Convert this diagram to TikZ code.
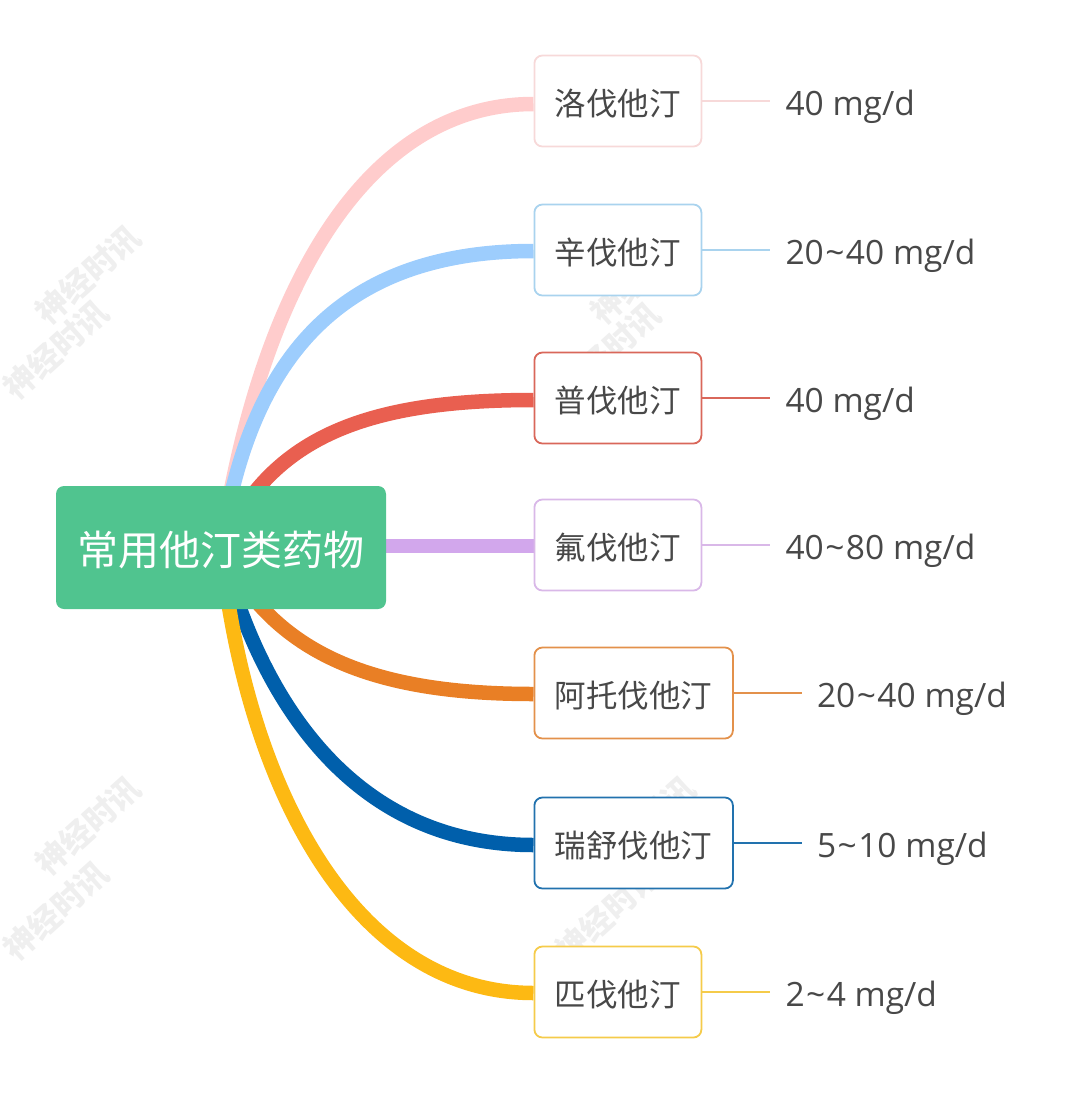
\documentclass[tikz,border=0pt]{standalone}
\usepackage{fontspec}
\setmainfont{Open Sans}
\newfontfamily\cjk{Noto Sans CJK SC}
\usetikzlibrary{positioning, backgrounds}

\newcommand{\tildesep}{\kern1.5pt\textasciitilde\kern1.5pt}

\definecolor{rootgreen}{HTML}{50C48F}
\definecolor{textgray}{HTML}{484848}
\definecolor{markgray}{HTML}{EFEFEF}
\definecolor{lopink}{HTML}{FFCCCC}
\definecolor{lopinkline}{HTML}{F7D9D9}
\definecolor{siblue}{HTML}{9DCDFD}
\definecolor{siblueline}{HTML}{A9D3EE}
\definecolor{prred}{HTML}{E95F50}
\definecolor{prredline}{HTML}{D9675A}
\definecolor{flpurple}{HTML}{D2A7EC}
\definecolor{flpurpleline}{HTML}{D9B8E8}
\definecolor{atorange}{HTML}{E97F25}
\definecolor{atorangeline}{HTML}{E3914B}
\definecolor{rsblue}{HTML}{005FAB}
\definecolor{rsblueline}{HTML}{2272AE}
\definecolor{piyellow}{HTML}{FDB913}
\definecolor{piyellowline}{HTML}{F5CB4A}

\tikzset{
  rootnode/.style={fill=rootgreen, text=white, rounded corners=8pt, minimum width=330pt, minimum height=123pt, inner sep=0pt, text height=38pt, text depth=2pt, font=\cjk\fontsize{41}{48}\selectfont},
  drugnode/.style={draw, fill=white, rounded corners=8pt, line width=1.8pt, minimum height=91pt, inner xsep=20.5pt, inner ysep=0pt, anchor=west, text=textgray, text height=30pt, text depth=2pt, font=\cjk\fontsize{31.5}{38}\selectfont},
  dosetext/.style={inner xsep=15pt, inner ysep=0pt, text=textgray, text height=31pt, text depth=2pt, font=\fontsize{33.5}{40}\selectfont},
  mainline/.style={line width=14.5pt},
  doseline/.style={line width=1.5pt},
  watermark/.style={rotate=42, text=markgray, font=\cjk\bfseries\fontsize{32}{38}\selectfont, inner sep=0pt}
}

\begin{document}
\begin{tikzpicture}[x=1pt, y=-1pt]
  \useasboundingbox (0,0) rectangle (1080,1093);

  \node[watermark] (mark1) at (88,275) {神经时讯};
  \node[watermark] (mark2) at (56,350) {神经时讯};
  \node[watermark] (mark3) at (643,275) {神经时讯};
  \node[watermark] (mark4) at (608,352) {神经时讯};
  \node[watermark] (mark5) at (88,826) {神经时讯};
  \node[watermark] (mark6) at (56,911) {神经时讯};
  \node[watermark] (mark7) at (643,826) {神经时讯};
  \node[watermark] (mark8) at (608,913) {神经时讯};

  \node[rootnode] (root) at (221,547.5) {常用他汀类药物};

  \node[drugnode, draw=lopinkline] (lova) at (533.5,101) {洛伐他汀};
  \node[drugnode, draw=siblueline] (simva) at (533.5,250) {辛伐他汀};
  \node[drugnode, draw=prredline] (prava) at (533.5,398) {普伐他汀};
  \node[drugnode, draw=flpurpleline] (fluva) at (533.5,545) {氟伐他汀};
  \node[drugnode, draw=atorangeline] (atorva) at (533.5,693) {阿托伐他汀};
  \node[drugnode, draw=rsblueline] (rosuva) at (533.5,843) {瑞舒伐他汀};
  \node[drugnode, draw=piyellowline] (pita) at (533.5,992) {匹伐他汀};

  \node[dosetext, right=68pt of lova] (lovadose) {40 mg/d};
  \node[dosetext, right=68pt of simva] (simvadose) {20\tildesep40 mg/d};
  \node[dosetext, right=68pt of prava] (pravadose) {40 mg/d};
  \node[dosetext, right=68pt of fluva] (fluvadose) {40\tildesep80 mg/d};
  \node[dosetext, right=68pt of atorva] (atorvadose) {20\tildesep40 mg/d};
  \node[dosetext, right=68pt of rosuva] (rosuvadose) {5\tildesep10 mg/d};
  \node[dosetext, right=68pt of pita] (pitadose) {2\tildesep4 mg/d};

  \draw[doseline, lopinkline] (lova) -- (lovadose);
  \draw[doseline, siblueline] (simva) -- (simvadose);
  \draw[doseline, prredline] (prava) -- (pravadose);
  \draw[doseline, flpurpleline] (fluva) -- (fluvadose);
  \draw[doseline, atorangeline] (atorva) -- (atorvadose);
  \draw[doseline, rsblueline] (rosuva) -- (rosuvadose);
  \draw[doseline, piyellowline] (pita) -- (pitadose);

  \begin{scope}[on background layer]
    \draw[mainline, lopink] (root.center) .. controls (258,300) and (360,104) .. (lova.west |- 0,104);
    \draw[mainline, siblue] (root.center) .. controls (248,370) and (330,251) .. (simva.west |- 0,251);
    \draw[mainline, prred] (root.center) .. controls (270,440) and (360,400) .. (prava.west |- 0,400);
    \draw[mainline, flpurple] (root.center |- 0,546) -- (fluva.west |- 0,546);
    \draw[mainline, atorange] (root.center) .. controls (272,650) and (365,694) .. (atorva.west |- 0,694);
    \draw[mainline, rsblue] (root.center) .. controls (255,680) and (340,845) .. (rosuva.west |- 0,845);
    \draw[mainline, piyellow] (root.center) .. controls (245,780) and (350,993) .. (pita.west |- 0,993);
  \end{scope}
\end{tikzpicture}
\end{document}
